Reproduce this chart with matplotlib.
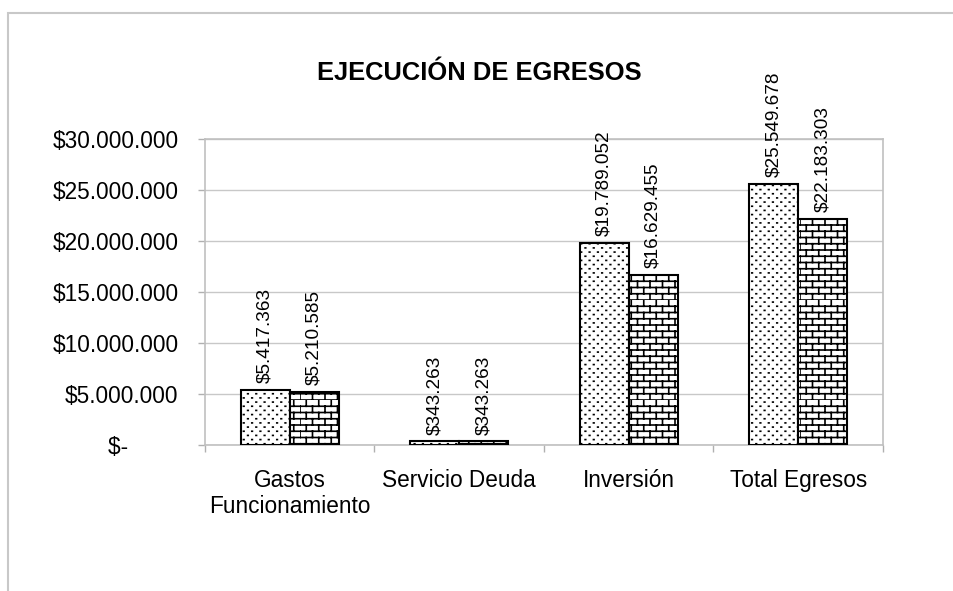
import numpy as np
import matplotlib
matplotlib.use('Agg')
import matplotlib.pyplot as plt
import matplotlib.hatch as mhatch
from matplotlib.path import Path
from matplotlib.patches import Rectangle
from matplotlib.ticker import FuncFormatter, FixedLocator

categories = ['Gastos\nFuncionamiento', 'Servicio Deuda', 'Inversión', 'Total Egresos']
presupuesto = [5417363, 343263, 19789052, 25549678]
ejecutado = [5210585, 343263, 16629455, 22183303]
yticks = [0, 5000000, 10000000, 15000000, 20000000, 25000000, 30000000]


# brick hatch, takes the place of 'O'
class BrickHatch(mhatch.HatchPatternBase):
    rows = 16
    cols = 8

    def __init__(self, hatch, density):
        on = 'O' in hatch
        self.num_lines = (self.rows + self.rows * self.cols) if on else 0
        self.num_vertices = 2 * self.num_lines

    def set_vertices_and_codes(self, vertices, codes):
        k = 0
        for i in range(self.rows):
            y0 = i / self.rows
            y1 = (i + 1) / self.rows
            vertices[k] = (0, y0)
            vertices[k + 1] = (1, y0)
            k += 2
            shift = 0.5 * (i % 2)
            for j in range(self.cols):
                x = (j + shift) / self.cols
                vertices[k] = (x, y0)
                vertices[k + 1] = (x, y1)
                k += 2
        codes[0::2] = Path.MOVETO
        codes[1::2] = Path.LINETO


# staggered fine dots, takes the place of '.'
class DotHatch(mhatch.HatchPatternBase):
    rows = 24
    cols = 12

    def __init__(self, hatch, density):
        on = '.' in hatch
        self.num_lines = self.rows * self.cols if on else 0
        self.num_vertices = 2 * self.num_lines

    def set_vertices_and_codes(self, vertices, codes):
        d = 0.003
        k = 0
        for i in range(self.rows):
            y = (i + 0.5) / self.rows
            shift = 0.5 * (i % 2)
            for j in range(self.cols):
                xc = (j + shift + 0.25) / self.cols
                vertices[k] = (xc - d, y)
                vertices[k + 1] = (xc + d, y)
                k += 2
        codes[0::2] = Path.MOVETO
        codes[1::2] = Path.LINETO


swap = {mhatch.LargeCircles: BrickHatch, mhatch.SmallFilledCircles: DotHatch}
mhatch._hatch_types = [swap.get(t, t) for t in mhatch._hatch_types]

plt.rcParams['font.family'] = ['Liberation Sans', 'DejaVu Sans']
plt.rcParams['hatch.linewidth'] = 1.2
plt.rcParams['hatch.color'] = 'black'

fig = plt.figure(figsize=(9.54, 5.91), dpi=100)
fig.patches.append(Rectangle((8 / 954, -0.1), 1.0, 1.1 - 13 / 591,
                             transform=fig.transFigure, fill=False,
                             edgecolor='#c8c8c8', linewidth=1.5))
ax = fig.add_axes([205 / 954, 1 - 445 / 591, 678 / 954, 306 / 591])

x = np.arange(len(categories))
w = 0.288
b1 = ax.bar(x - w / 2, presupuesto, w, color='white', edgecolor='black',
            linewidth=1.5, hatch='.', zorder=3)
b2 = ax.bar(x + w / 2, ejecutado, w, color='white', edgecolor='black',
            linewidth=1.5, hatch='O', zorder=3)

for bars, vals in [(b1, presupuesto), (b2, ejecutado)]:
    for rect, v in zip(bars, vals):
        txt = '\\$' + '{:,}'.format(v).replace(',', '.')
        ax.annotate(txt, (rect.get_x() + rect.get_width() / 2, v),
                    xytext=(0, 5), textcoords='offset points',
                    rotation=90, ha='center', va='bottom', fontsize=13.7)


def money(v, pos):
    if v == 0:
        return '\\$-' + ' ' * 8
    return '\\$' + '{:,.0f}'.format(v).replace(',', '.')


ax.set_ylim(0, 30000000)
ax.set_xlim(-0.5, len(categories) - 0.5)
ax.yaxis.set_major_locator(FixedLocator(yticks))
ax.yaxis.set_major_formatter(FuncFormatter(money))
ax.set_xticks(x)
ax.set_xticklabels(categories, linespacing=1.2)
ax.set_xticks(np.arange(len(categories) + 1) - 0.5, minor=True)

ax.tick_params(axis='x', which='major', length=0, pad=17, labelsize=16.3)
ax.tick_params(axis='x', which='minor', length=5, color='#b0b0b0', width=1)
ax.tick_params(axis='y', length=5, color='#b0b0b0', width=1, pad=14,
               labelsize=16.3)

ax.grid(axis='y', color='#c8c8c8', linewidth=1, zorder=0)
for s in ax.spines.values():
    s.set_color('#c0c0c0')
    s.set_linewidth(1.2)

fig.text(479 / 954, 1 - 80 / 591, 'EJECUCIÓN DE EGRESOS', ha='center',
         va='baseline', fontsize=18.4, fontweight='bold')

fig.savefig('out.png', dpi=100)
